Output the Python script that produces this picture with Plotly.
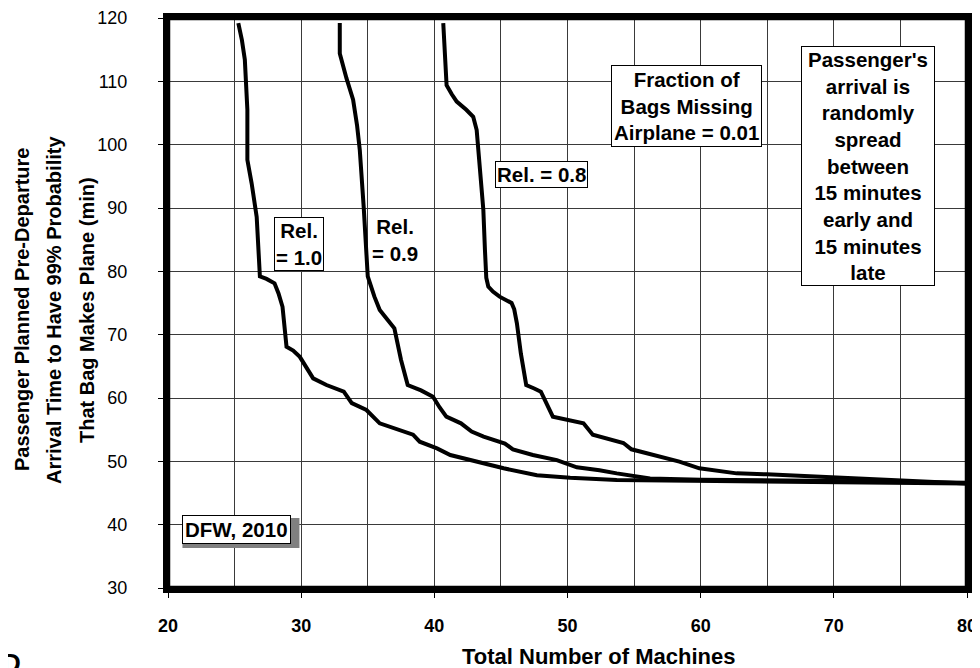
import plotly.graph_objects as go

# Data
rel10_x = [25.28, 25.55, 25.77, 25.9, 25.96, 25.96, 26.28, 26.66, 26.9, 27.4, 28.0, 28.3, 28.6, 28.9, 29.4, 29.9, 30.4, 30.9, 31.9, 33.2, 33.8, 34.9, 35.9, 37.4, 38.4, 38.9, 40.2, 41.2, 43.2, 45.2, 47.7, 50.2, 53.7, 60, 70, 80]
rel10_y = [119.2, 116.5, 113.4, 109, 105.5, 97.6, 93.9, 88.6, 79.2, 78.8, 78.1, 76.5, 74.4, 68.1, 67.5, 66.5, 64.9, 63.1, 62.05, 61.0, 59.2, 58.1, 56.0, 54.9, 54.2, 53.1, 52.05, 51.0, 49.95, 48.9, 47.8, 47.4, 47.05, 46.95, 46.8, 46.5]

rel09_x = [32.9, 32.9, 33.4, 33.9, 34.2, 34.4, 34.7, 34.9, 35.0, 35.5, 35.9, 36.5, 37.0, 37.5, 38.0, 39.0, 39.9, 40.4, 40.9, 42.0, 42.8, 43.7, 45.3, 45.9, 47.4, 49.2, 50.7, 52.4, 53.7, 56.2, 60, 70, 80]
rel09_y = [119.2, 114.4, 110.5, 107.1, 103, 99.2, 90, 82.3, 79.2, 76, 73.9, 72.3, 71.0, 66, 62.05, 61.2, 60.2, 58.5, 57.05, 56.0, 54.7, 53.9, 52.8, 51.9, 51.0, 50.2, 49.05, 48.6, 48.1, 47.3, 47.1, 46.9, 46.6]

rel08_x = [40.67, 40.8, 40.92, 41.3, 41.68, 42.4, 42.92, 43.18, 43.4, 43.68, 43.8, 43.9, 44.05, 44.4, 44.9, 45.8, 46.0, 46.2, 46.5, 46.9, 47.5, 48.0, 48.9, 50.0, 51.2, 51.9, 53.0, 54.2, 54.8, 56.4, 58.4, 59.9, 62.7, 64.95, 69.9, 75, 80]
rel08_y = [119.2, 114, 109.4, 108, 106.8, 105.5, 104.4, 102.3, 96, 89.7, 83.4, 79, 77.6, 76.8, 76.0, 75.0, 74.0, 71.8, 67, 62.05, 61.5, 61.0, 57.05, 56.6, 56.0, 54.2, 53.6, 52.9, 51.9, 51.0, 49.95, 48.9, 48.1, 47.95, 47.5, 46.9, 46.5]

x_ticks = [20, 30, 40, 50, 60, 70, 80]
y_ticks = [30, 40, 50, 60, 70, 80, 90, 100, 110, 120]

y_title_lines = ["Passenger Planned Pre-Departure",
                 "Arrival Time to Have 99% Probability",
                 "That Bag Makes Plane (min)"]
x_title = "Total Number of Machines"

FONT = "Liberation Sans, Arial, sans-serif"
W, H = 980, 668
OFF = 8  # page body margin
L, R, T, B = 160, 21, 10, 88
PW, PH = W - L - R, H - T - B

def px_x(p):  # screen pixel -> paper x
    return (p - OFF - L) / PW

def px_y(p):  # screen pixel -> paper y
    return (H - B - (p - OFF)) / PH

fig = go.Figure()
for xs, ys in [(rel10_x, rel10_y), (rel09_x, rel09_y), (rel08_x, rel08_y)]:
    fig.add_trace(go.Scatter(x=xs, y=ys, mode="lines",
                             line=dict(color="black", width=4),
                             showlegend=False, hoverinfo="skip"))

AF = 20.5
box = dict(bgcolor="white", bordercolor="black", borderwidth=1, showarrow=False,
           font=dict(family=FONT, size=AF, color="black"), xref="x", yref="y")

fig.add_annotation(x=29.87, y=84.3, text="<b>Rel.<br>= 1.0</b>", borderpad=1, **box)
fig.add_annotation(x=37.05, y=85.0, text="<b>Rel.<br>= 0.9</b>", showarrow=False,
                   font=dict(family=FONT, size=AF, color="black"), xref="x", yref="y")
fig.add_annotation(x=48.08, y=95.3, text="<b>Rel. = 0.8</b>", borderpad=1, **box)
fig.add_annotation(x=58.97, y=106.1, text="<b>Fraction of<br>Bags Missing<br>Airplane = 0.01</b>",
                   borderpad=2, **box)
fig.add_annotation(x=72.56, y=96.6,
                   text="<b>Passenger's<br>arrival is<br>randomly<br>spread<br>between<br>15 minutes<br>early and<br>15 minutes<br>late</b>",
                   borderpad=1, width=130, **box)

# DFW label with drop shadow
fig.add_shape(type="rect", xref="x", yref="y", xsizemode="pixel", ysizemode="pixel",
              xanchor=25.14, yanchor=39.3, x0=-54, x1=63, y0=-19, y1=11,
              fillcolor="#808080", line=dict(width=0), layer="above")
fig.add_annotation(x=25.14, y=39.3, text="<b>DFW, 2010</b>", borderpad=2, **box)

# heavy plot frame
fig.add_shape(type="rect", xref="paper", yref="paper", x0=0, x1=1, y0=0, y1=1,
              line=dict(color="black", width=4.5), fillcolor="rgba(0,0,0,0)", layer="above")

# axis titles
for i, line in enumerate(y_title_lines):
    fig.add_annotation(x=px_x([22, 54, 87][i]), y=px_y(310), xref="paper", yref="paper",
                       text=f"<b>{line}</b>", textangle=-90, showarrow=False,
                       xanchor="center", yanchor="middle",
                       font=dict(family=FONT, size=20, color="black"))
fig.add_annotation(x=px_x(598), y=px_y(656), xref="paper", yref="paper",
                   text=f"<b>{x_title}</b>", showarrow=False, xanchor="center", yanchor="middle",
                   font=dict(family=FONT, size=22, color="black"))

fig.add_annotation(x=px_x(0), y=px_y(646), xref="paper", yref="paper", text="<b>D</b>",
                   showarrow=False, xanchor="left", yanchor="top",
                   font=dict(family=FONT, size=26, color="black"))

fig.update_layout(
    width=W, height=H,
    margin=dict(l=L, r=R, t=T, b=B, autoexpand=False),
    paper_bgcolor="white", plot_bgcolor="white",
    font=dict(family=FONT, color="black"),
    xaxis=dict(range=[20, 80], tickvals=x_ticks, ticktext=[f"<b>{v}</b>" for v in x_ticks],
               tickfont=dict(size=18, family=FONT), ticks="outside", ticklen=5, tickwidth=1,
               tickcolor="black", ticklabelstandoff=12, automargin=False,
               showgrid=True, gridcolor="#3a3a3a", gridwidth=1,
               minor=dict(dtick=5, showgrid=True, gridcolor="#3a3a3a", gridwidth=1),
               showline=True, linecolor="black", linewidth=5, mirror=True, zeroline=False),
    yaxis=dict(range=[30, 120], tickvals=y_ticks, tickfont=dict(size=18, family=FONT),
               ticks="outside", ticklen=5, tickwidth=1, tickcolor="black", ticklabelstandoff=27,
               automargin=False,
               showgrid=True, gridcolor="#3a3a3a", gridwidth=1,
               showline=True, linecolor="black", linewidth=5, mirror=True, zeroline=False),
)

fig.write_html("out.html")
